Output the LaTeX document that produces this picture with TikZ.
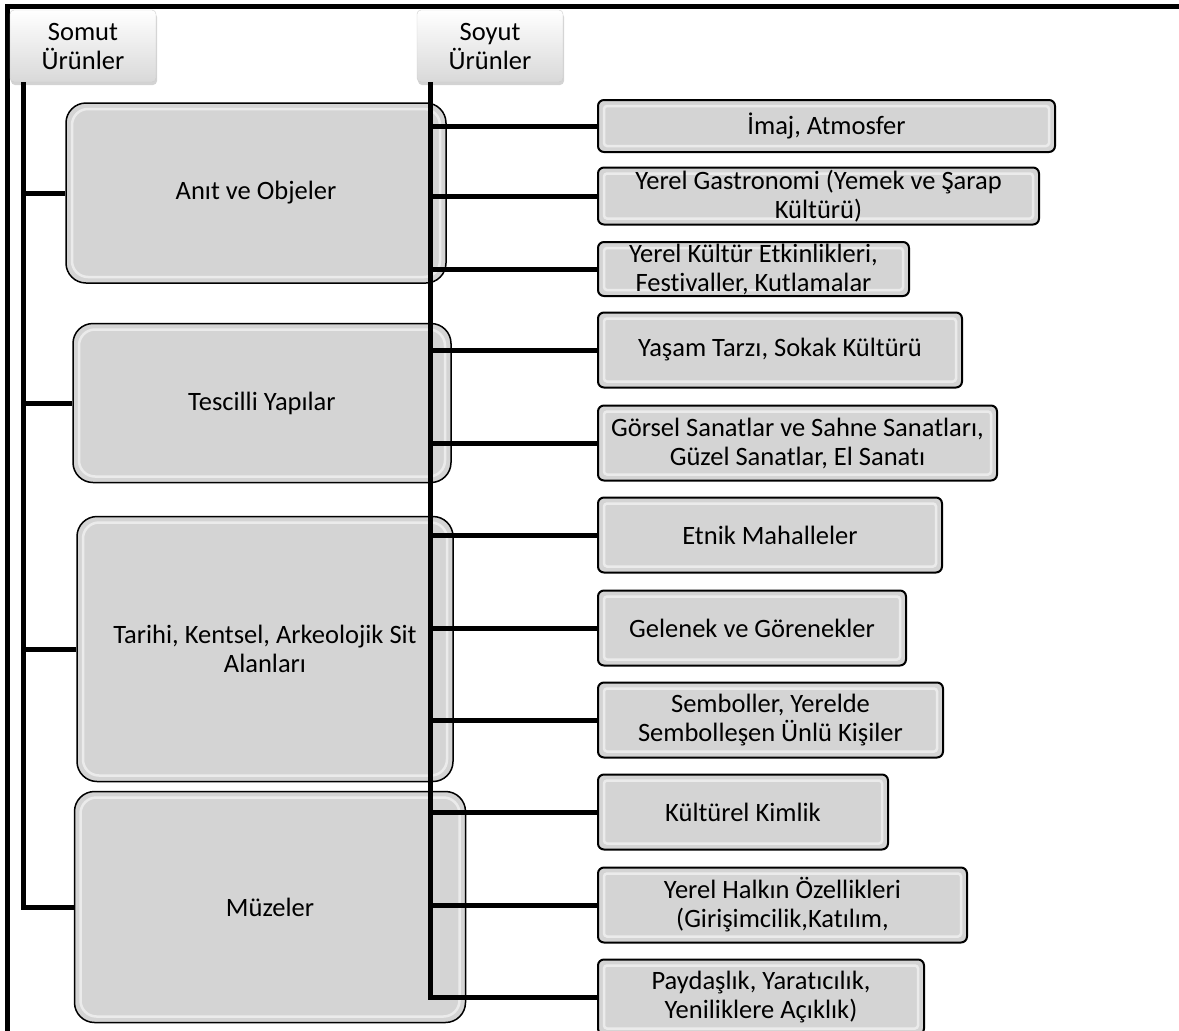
\documentclass[tikz,border=0pt]{standalone}
\usepackage{fontspec}
\setmainfont{Carlito}[Ligatures=NoCommon]
\usetikzlibrary{shadows}

\begin{document}
\begin{tikzpicture}[x=1pt,y=-1pt,
  font=\fontsize{26.5}{29}\selectfont,
  header/.style={rounded corners=4pt,top color=white,bottom color=black!15,draw=black!20,
    drop shadow={shadow xshift=1pt,shadow yshift=-3pt,opacity=0.35},
    minimum width=146pt,minimum height=72pt,align=center,inner sep=0pt},
  bevel/.style={path picture={\draw[white,opacity=0.55,line width=2.5pt,rounded corners=#1]
    ([shift={(6pt,-6pt)}]path picture bounding box.north west) rectangle
    ([shift={(-6pt,6pt)}]path picture bounding box.south east);}},
  bigbox/.style={draw,line width=1.5pt,fill=black!17,rounded corners=20pt,bevel=16pt,
    align=center,inner sep=0pt},
  smallbox/.style={draw,line width=2pt,fill=black!17,rounded corners=6pt,bevel=3pt,
    align=center,inner sep=0pt,anchor=west,minimum height=75pt},
  conn/.style={line width=5pt}]
  \useasboundingbox (0,0) rectangle (1179,1031);

  %outer frame
  \draw[line width=5pt] (7,1040) -- (7,6) -- (1190,6);

  %headers
  \node[header] (somut) at (83,46) {Somut\\Ürünler};
  \node[header] (soyut) at (490,46) {Soyut\\Ürünler};

  %somut side
  \node[bigbox,minimum width=380pt,minimum height=180pt] (anit) at (256,193) {Anıt ve Objeler};
  \node[bigbox,minimum width=378pt,minimum height=159pt] (tescil) at (262,403) {Tescilli Yapılar};
  \node[bigbox,minimum width=376pt,minimum height=265pt] (tarih) at (265,649) {Tarihi, Kentsel, Arkeolojik Sit\\Alanları};
  \node[bigbox,minimum width=391pt,minimum height=231pt] (muze) at (270,907) {Müzeler};

  %trunk positions
  \coordinate (lt) at (23,0);
  \coordinate (rt) at (430,0);

  %soyut side
  \node[smallbox,minimum width=457pt,minimum height=52pt] (imaj) at (597,126) {İmaj, Atmosfer};
  \node[smallbox,minimum width=441pt,minimum height=57pt] (gastro) at (597,196) {Yerel Gastronomi (Yemek ve Şarap\\Kültürü)};
  \node[smallbox,minimum width=311pt,minimum height=54pt] (etkin) at (597,269) {Yerel Kültür Etkinlikleri,\\Festivaller, Kutlamalar};
  \node[smallbox,minimum width=364pt] (yasam) at (597,350) {Yaşam Tarzı, Sokak Kültürü};
  \node[smallbox,minimum width=399pt] (gorsel) at (597,443) {Görsel Sanatlar ve Sahne Sanatları,\\Güzel Sanatlar, El Sanatı};
  \node[smallbox,minimum width=344pt] (etnik) at (597,535) {Etnik Mahalleler};
  \node[smallbox,minimum width=308pt] (gelenek) at (597,628) {Gelenek ve Görenekler};
  \node[smallbox,minimum width=345pt] (sembol) at (597,720) {Semboller, Yerelde\\Sembolleşen Ünlü Kişiler};
  \node[smallbox,minimum width=290pt] (kimlik) at (597,812) {Kültürel Kimlik};
  \node[smallbox,minimum width=369pt] (halk) at (597,905) {Yerel Halkın Özellikleri\\(Girişimcilik,Katılım,};
  \node[smallbox,minimum width=326pt] (paydas) at (597,997) {Paydaşlık, Yaratıcılık,\\Yeniliklere Açıklık)};

  %left trunk
  \draw[conn] (somut.south -| lt) |- (muze.west);
  \foreach \n in {anit,tescil,tarih}
    \draw[conn] (lt |- \n.west) -- (\n.west);

  %right trunk
  \draw[conn] (soyut.south -| rt) |- (paydas.west);
  \foreach \n in {imaj,gastro,etkin,yasam,gorsel,etnik,gelenek,sembol,kimlik,halk}
    \draw[conn] (rt |- \n.west) -- (\n.west);
\end{tikzpicture}
\end{document}
